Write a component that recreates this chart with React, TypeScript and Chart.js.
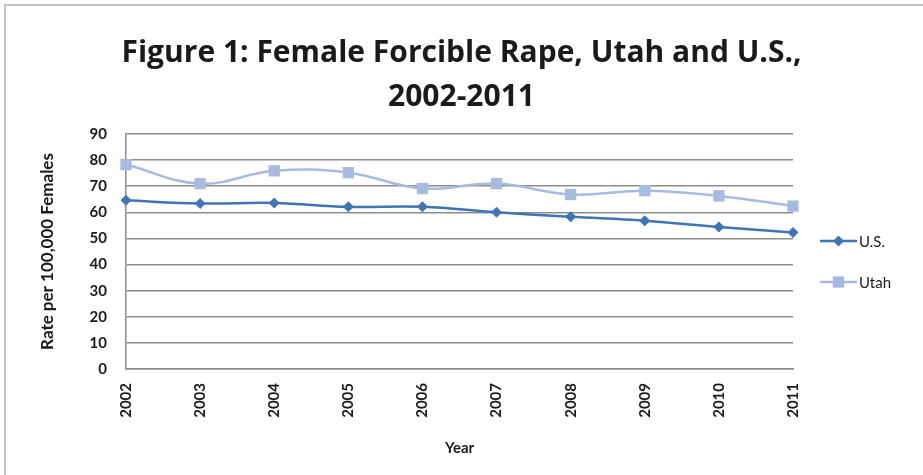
import React, { useEffect, useRef } from "react";
import { Chart, registerables } from "chart.js";

Chart.register(...registerables);

const years = ["2002", "2003", "2004", "2005", "2006", "2007", "2008", "2009", "2010", "2011"];
const usRate = [64.6, 63.4, 63.6, 62.1, 62.1, 60.0, 58.3, 56.8, 54.4, 52.3];
const utahRate = [78.3, 71.0, 75.9, 75.2, 69.1, 71.0, 66.8, 68.3, 66.3, 62.4];
const yTicks = [0, 10, 20, 30, 40, 50, 60, 70, 80, 90];

const US_COLOR = "#3f74b6";
const UTAH_COLOR = "#a6bbdf";
const TEXT = "#1a1a1a";
const FONT = "Lato, 'Open Sans', sans-serif";
const TITLE_FONT = "'Open Sans', Lato, sans-serif";

function drawMarker(ctx: CanvasRenderingContext2D, style: string, x: number, y: number, r: number, color: string) {
  ctx.save();
  ctx.fillStyle = color;
  ctx.beginPath();
  if (style === "rectRot") {
    ctx.moveTo(x - r, y);
    ctx.lineTo(x, y - r);
    ctx.lineTo(x + r, y);
    ctx.lineTo(x, y + r);
    ctx.closePath();
  } else {
    const s = r * Math.SQRT1_2;
    ctx.rect(x - s, y - s, 2 * s, 2 * s);
  }
  ctx.fill();
  ctx.restore();
}

// Legend at the right: a short line with the series marker, then the name
const sideLegend = {
  id: "sideLegend",
  afterDraw(chart: any) {
    const { ctx, chartArea } = chart;
    const x0 = chartArea.right + 27;
    const x1 = x0 + 37;
    const mid = (chartArea.top + chartArea.bottom) / 2;
    const rows = [mid - 10.5, mid + 30.5];
    chart.data.datasets.forEach((ds: any, i: number) => {
      const y = rows[i];
      ctx.save();
      ctx.strokeStyle = ds.borderColor;
      ctx.lineWidth = 2.5;
      ctx.beginPath();
      ctx.moveTo(x0, y);
      ctx.lineTo(x1, y);
      ctx.stroke();
      drawMarker(ctx, ds.pointStyle, (x0 + x1) / 2, y, ds.pointRadius, ds.pointBackgroundColor);
      ctx.fillStyle = TEXT;
      ctx.font = `15px ${FONT}`;
      ctx.textBaseline = "middle";
      ctx.textAlign = "left";
      ctx.fillText(ds.label, x1 + 2, y + 1);
      ctx.restore();
    });
  },
};

export default function App() {
  const canvasRef = useRef<HTMLCanvasElement | null>(null);

  useEffect(() => {
    const canvas = canvasRef.current;
    if (!canvas) return;
    const chart = new Chart(canvas, {
      type: "line",
      data: {
        labels: years,
        datasets: [
          {
            label: "U.S.",
            data: usRate,
            borderColor: US_COLOR,
            backgroundColor: US_COLOR,
            pointBackgroundColor: US_COLOR,
            pointBorderColor: US_COLOR,
            pointStyle: "rectRot",
            pointRadius: 5.5,
            pointBorderWidth: 0,
            borderWidth: 2.5,
            tension: 0.4,
          },
          {
            label: "Utah",
            data: utahRate,
            borderColor: UTAH_COLOR,
            backgroundColor: UTAH_COLOR,
            pointBackgroundColor: UTAH_COLOR,
            pointBorderColor: UTAH_COLOR,
            pointStyle: "rect",
            pointRadius: 8,
            pointBorderWidth: 0,
            borderWidth: 2.5,
            tension: 0.4,
          },
        ],
      },
      options: {
        animation: false,
        responsive: false,
        maintainAspectRatio: false,
        layout: { padding: { top: 32, left: 0, right: 0, bottom: 18 } },
        plugins: {
          legend: { display: false },
          tooltip: { enabled: false },
          title: {
            display: true,
            text: ["Figure 1: Female Forcible Rape, Utah and U.S.,", "2002-2011"],
            color: TEXT,
            font: { family: TITLE_FONT, size: 30, weight: "bold", lineHeight: 1.45 },
            padding: { top: 0, bottom: 15 },
          },
        },
        scales: {
          x: {
            offset: false,
            afterFit: (scale: any) => {
              scale.height = 88;
            },
            grid: { display: false, drawTicks: false },
            border: { display: true, color: "#8c8c8c", width: 1.5 },
            ticks: {
              color: TEXT,
              font: { family: FONT, size: 15, weight: "bold" },
              maxRotation: 90,
              minRotation: 90,
              padding: 14,
            },
            title: {
              display: true,
              text: "Year",
              color: TEXT,
              font: { family: FONT, size: 15, weight: "bold" },
              padding: 0,
            },
          },
          y: {
            min: 0,
            max: 90,
            afterBuildTicks: (scale: any) => {
              scale.ticks = yTicks.map((v) => ({ value: v }));
            },
            afterFit: (scale: any) => {
              scale.width = 126;
            },
            grid: { color: "#8c8c8c", lineWidth: 1.5, drawTicks: false },
            border: { display: true, color: "#8c8c8c", width: 1.5 },
            ticks: {
              color: TEXT,
              font: { family: FONT, size: 15, weight: "bold" },
              padding: 19,
            },
            title: {
              display: true,
              text: "Rate per 100,000 Females",
              color: TEXT,
              font: { family: FONT, size: 17, weight: "bold" },
              padding: { top: 37, bottom: 0 },
            },
          },
          // empty right-hand scale that reserves room for the legend
          legendSpace: {
            type: "linear",
            position: "right",
            display: true,
            afterFit: (scale: any) => {
              scale.width = 130;
            },
            grid: { display: false, drawTicks: false },
            border: { display: false },
            ticks: { display: false },
          },
        },
      },
      plugins: [sideLegend],
    });
    return () => chart.destroy();
  }, []);

  return (
    <div style={{ position: "absolute", left: 0, top: 0, width: 923, height: 475, background: "#fff", overflow: "hidden" }}>
      <div
        style={{
          position: "absolute",
          left: 4,
          top: 4,
          width: 930,
          height: 480,
          borderTop: "2px solid #c4c4c4",
          borderLeft: "2px solid #c4c4c4",
          boxSizing: "border-box",
        }}
      />
      <canvas ref={canvasRef} width={923} height={475} style={{ position: "absolute", left: 0, top: 0 }} />
    </div>
  );
}
